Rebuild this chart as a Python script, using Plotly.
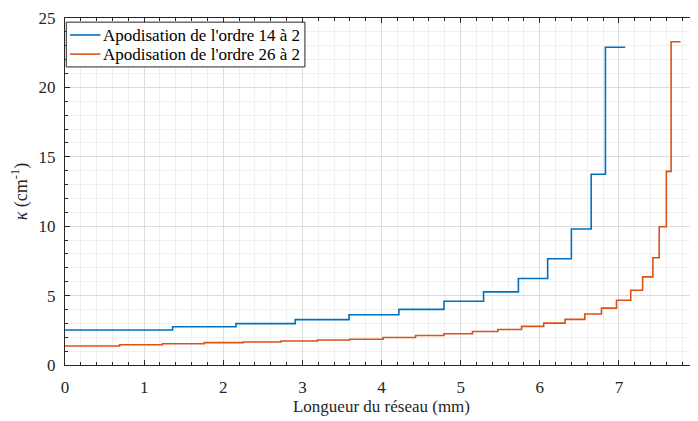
import plotly.graph_objects as go

# positions (mm) where each step starts, last entry = end of the curve
x_14 = [0, 1.36, 2.16, 2.91, 3.59, 4.22, 4.79, 5.29, 5.73, 6.10, 6.40, 6.65, 6.83, 7.08]
k_14 = [2.52, 2.76, 2.98, 3.27, 3.62, 4.01, 4.59, 5.27, 6.23, 7.66, 9.80, 13.74, 22.89]

x_26 = [0, 0.69, 1.23, 1.76, 2.25, 2.73, 3.19, 3.60, 4.02, 4.43, 4.79, 5.15, 5.47,
        5.77, 6.05, 6.32, 6.57, 6.78, 6.97, 7.15, 7.30, 7.43, 7.51, 7.60, 7.66, 7.78]
k_26 = [1.37, 1.46, 1.53, 1.61, 1.66, 1.73, 1.80, 1.86, 1.98, 2.12, 2.25, 2.41, 2.56,
        2.78, 3.02, 3.29, 3.67, 4.10, 4.66, 5.39, 6.35, 7.73, 9.96, 13.95, 23.29]

names = ["Apodisation de l'ordre 14 à 2", "Apodisation de l'ordre 26 à 2"]
colors = ["#0072BD", "#D95319"]

font = "Liberation Serif"

fig = go.Figure()
fig.add_trace(go.Scatter(x=x_14, y=k_14 + [k_14[-1]], mode="lines", line_shape="hv",
                         line=dict(color=colors[0], width=1.6), name=names[0]))
fig.add_trace(go.Scatter(x=x_26, y=k_26 + [k_26[-1]], mode="lines", line_shape="hv",
                         line=dict(color=colors[1], width=1.6), name=names[1]))

axis_style = dict(showline=True, linecolor="#262626", linewidth=1, mirror="ticks",
                  ticks="inside", ticklen=5, tickcolor="#262626", automargin=False,
                  showgrid=True, gridcolor="#dcdcdc", gridwidth=1, zeroline=False,
                  tickfont=dict(family=font, size=17, color="#262626"))

fig.update_xaxes(range=[0, 8], dtick=1, **axis_style, ticklabelstandoff=7,
                 minor=dict(dtick=0.2, ticks="inside", ticklen=3, tickcolor="#262626",
                            showgrid=True, gridcolor="#f0f0f0"),
                 title=dict(text="Longueur du réseau (mm)",
                            font=dict(family=font, size=17, color="#262626"), standoff=2))
fig.update_yaxes(range=[0, 25], dtick=5, **axis_style, ticklabelstandoff=5,
                 minor=dict(dtick=1, ticks="inside", ticklen=3, tickcolor="#262626",
                            showgrid=True, gridcolor="#f0f0f0"),
                 title=dict(text="<i>κ</i> (cm<sup>-1</sup>)",
                            font=dict(family=font, size=18, color="#262626"), standoff=6))

# compact MATLAB-like legend box drawn in the top-left corner
fig.add_shape(type="rect", xref="x domain", yref="y domain", x0=0.002, x1=0.379,
              y0=0.859, y1=0.988, line=dict(color="#262626", width=1), fillcolor="white",
              layer="above")
for i, yy in enumerate([0.951, 0.896]):
    fig.add_shape(type="line", xref="x domain", yref="y domain", x0=0.008, x1=0.056,
                  y0=yy, y1=yy, line=dict(color=colors[i], width=1.6), layer="above")
    fig.add_annotation(xref="x domain", yref="y domain", x=0.057, y=yy, text=names[i],
                       xanchor="left", yanchor="middle", showarrow=False,
                       font=dict(family=font, size=17, color="#000000"))

fig.update_layout(width=698, height=421, plot_bgcolor="white", paper_bgcolor="white",
                  font=dict(family=font, color="#262626"), showlegend=False,
                  margin=dict(l=57, r=8, t=10, b=64, autoexpand=False))

fig.write_html("out.html")
